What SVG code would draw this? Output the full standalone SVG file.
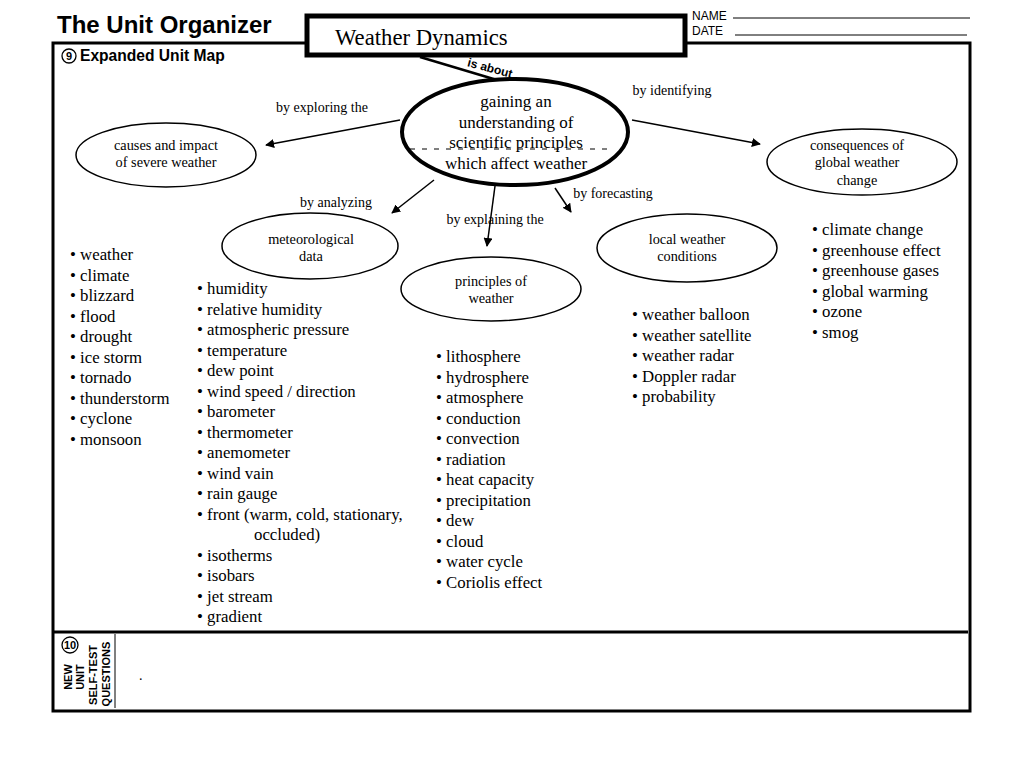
<svg xmlns="http://www.w3.org/2000/svg" width="1024" height="768" viewBox="0 0 1024 768">
<style>
.sans{font-family:"Liberation Sans",Arial,sans-serif}
.serif{font-family:"Liberation Serif","Times New Roman",serif}
.node{fill:#fff;stroke:#000;stroke-width:1.5}
.nt{font-family:"Liberation Serif","Times New Roman",serif;font-size:14.3px;text-anchor:middle}
.lbl{font-family:"Liberation Serif","Times New Roman",serif;font-size:14px;text-anchor:middle}
.list{font-family:"Liberation Serif","Times New Roman",serif;font-size:16.8px}
.conn{stroke:#000;stroke-width:1.5;fill:none;marker-end:url(#ah)}
</style>
<defs>
<marker id="ah" viewBox="0 0 10 10" refX="9" refY="5" markerWidth="9" markerHeight="9" markerUnits="userSpaceOnUse" orient="auto">
<path d="M0,0 L10,5 L0,10 z" fill="#000"/>
</marker>
</defs>
<rect width="1024" height="768" fill="#fff"/>
<g id="frame">
<rect x="53" y="43" width="917" height="668" fill="none" stroke="#000" stroke-width="3"/>
<line x1="53" y1="632" x2="968" y2="632" stroke="#000" stroke-width="3"/>
<line x1="115" y1="634" x2="115" y2="708" stroke="#000" stroke-width="1"/>
<text x="57" y="33" class="sans" font-size="24" font-weight="bold">The Unit Organizer</text>
<circle cx="69" cy="56" r="7" fill="none" stroke="#000" stroke-width="1.3"/>
<text x="69" y="60" class="sans" font-size="11" font-weight="bold" text-anchor="middle">9</text>
<text x="80" y="61" class="sans" font-size="15.6" font-weight="bold">Expanded Unit Map</text>
<text x="692" y="20" class="sans" font-size="12">NAME</text>
<line x1="733" y1="18" x2="970" y2="18" stroke="#000" stroke-width="1"/>
<text x="692" y="35" class="sans" font-size="12">DATE</text>
<line x1="735" y1="35" x2="967" y2="35" stroke="#000" stroke-width="1"/>
<circle cx="70" cy="645" r="8" fill="none" stroke="#000" stroke-width="1.3"/>
<text x="70" y="649" class="sans" font-size="11" font-weight="bold" text-anchor="middle">10</text>
<g class="sans" font-size="11" font-weight="bold" text-anchor="middle">
<text transform="translate(72,677) rotate(-90)">NEW</text>
<text transform="translate(84,677) rotate(-90)">UNIT</text>
<text transform="translate(97,675) rotate(-90)">SELF-TEST</text>
<text transform="translate(110,674) rotate(-90)">QUESTIONS</text>
</g>
<text x="139" y="680" class="serif" font-size="14">.</text>
</g>
<g id="title">
<rect x="307" y="16" width="378" height="39" fill="#fff" stroke="#000" stroke-width="5"/>
<text x="335" y="45" class="serif" font-size="22.7">Weather Dynamics</text>
</g>
<g id="connectors">
<line x1="420" y1="57" x2="497" y2="80" stroke="#000" stroke-width="2.5"/>
<text transform="translate(489,72) rotate(15)" class="sans" font-size="12" font-weight="bold" text-anchor="middle">is about</text>
<line class="conn" x1="400" y1="120" x2="266" y2="145"/>
<text x="322" y="112" class="lbl">by exploring the</text>
<line class="conn" x1="632" y1="120" x2="760" y2="144"/>
<text x="672" y="95" class="lbl">by identifying</text>
<line class="conn" x1="434" y1="180" x2="392" y2="213"/>
<text x="336" y="207" class="lbl">by analyzing</text>
<line class="conn" x1="495" y1="186" x2="487" y2="246"/>
<text x="495" y="224" class="lbl">by explaining the</text>
<line class="conn" x1="555" y1="188" x2="571" y2="212"/>
<text x="613" y="198" class="lbl">by forecasting</text>
</g>
<g id="center">
<ellipse cx="515" cy="132" rx="113" ry="53" fill="#fff" stroke="#000" stroke-width="4"/>
<line x1="410" y1="149" x2="613" y2="149" stroke="#000" stroke-width="1" stroke-dasharray="5,7"/>
<g class="serif" font-size="17" text-anchor="middle">
<text x="516" y="107">gaining an</text>
<text x="516" y="128">understanding of</text>
<text x="516" y="148">scientific principles</text>
<text x="516" y="169">which affect weather</text>
</g>
</g>
<g id="causes">
<ellipse class="node" cx="166" cy="155" rx="90" ry="32"/>
<text x="166" y="150" class="nt">causes and impact</text>
<text x="166" y="167" class="nt">of severe weather</text>
</g>
<g id="consequences">
<ellipse class="node" cx="862" cy="162" rx="95" ry="33"/>
<text x="857" y="150" class="nt">consequences of</text>
<text x="857" y="167" class="nt">global weather</text>
<text x="857" y="185" class="nt">change</text>
</g>
<g id="meteorological">
<ellipse class="node" cx="310" cy="246" rx="88" ry="33"/>
<text x="311" y="244" class="nt">meteorological</text>
<text x="311" y="261" class="nt">data</text>
</g>
<g id="principles">
<ellipse class="node" cx="491" cy="289" rx="90" ry="32"/>
<text x="491" y="286" class="nt">principles of</text>
<text x="491" y="303" class="nt">weather</text>
</g>
<g id="local">
<ellipse class="node" cx="687" cy="248" rx="90" ry="34"/>
<text x="687" y="244" class="nt">local weather</text>
<text x="687" y="261" class="nt">conditions</text>
</g>
<g id="list-severe" class="list">
<text x="70" y="260">• weather</text>
<text x="70" y="280.5">• climate</text>
<text x="70" y="301">• blizzard</text>
<text x="70" y="321.5">• flood</text>
<text x="70" y="342">• drought</text>
<text x="70" y="362.5">• ice storm</text>
<text x="70" y="383">• tornado</text>
<text x="70" y="403.5">• thunderstorm</text>
<text x="70" y="424">• cyclone</text>
<text x="70" y="444.5">• monsoon</text>
</g>
<g id="list-data" class="list">
<text x="197" y="294">• humidity</text>
<text x="197" y="314.5">• relative humidity</text>
<text x="197" y="335">• atmospheric pressure</text>
<text x="197" y="355.5">• temperature</text>
<text x="197" y="376">• dew point</text>
<text x="197" y="396.5">• wind speed / direction</text>
<text x="197" y="417">• barometer</text>
<text x="197" y="437.5">• thermometer</text>
<text x="197" y="458">• anemometer</text>
<text x="197" y="478.5">• wind vain</text>
<text x="197" y="499">• rain gauge</text>
<text x="197" y="519.5">• front (warm, cold, stationary,</text>
<text x="254" y="540">occluded)</text>
<text x="197" y="560.5">• isotherms</text>
<text x="197" y="581">• isobars</text>
<text x="197" y="601.5">• jet stream</text>
<text x="197" y="622">• gradient</text>
</g>
<g id="list-principles" class="list">
<text x="436" y="362">• lithosphere</text>
<text x="436" y="382.5">• hydrosphere</text>
<text x="436" y="403">• atmosphere</text>
<text x="436" y="423.5">• conduction</text>
<text x="436" y="444">• convection</text>
<text x="436" y="464.5">• radiation</text>
<text x="436" y="485">• heat capacity</text>
<text x="436" y="505.5">• precipitation</text>
<text x="436" y="526">• dew</text>
<text x="436" y="546.5">• cloud</text>
<text x="436" y="567">• water cycle</text>
<text x="436" y="587.5">• Coriolis effect</text>
</g>
<g id="list-local" class="list">
<text x="632" y="320">• weather balloon</text>
<text x="632" y="340.5">• weather satellite</text>
<text x="632" y="361">• weather radar</text>
<text x="632" y="381.5">• Doppler radar</text>
<text x="632" y="402">• probability</text>
</g>
<g id="list-global" class="list">
<text x="812" y="235">• climate change</text>
<text x="812" y="255.5">• greenhouse effect</text>
<text x="812" y="276">• greenhouse gases</text>
<text x="812" y="296.5">• global warming</text>
<text x="812" y="317">• ozone</text>
<text x="812" y="337.5">• smog</text>
</g>
</svg>
